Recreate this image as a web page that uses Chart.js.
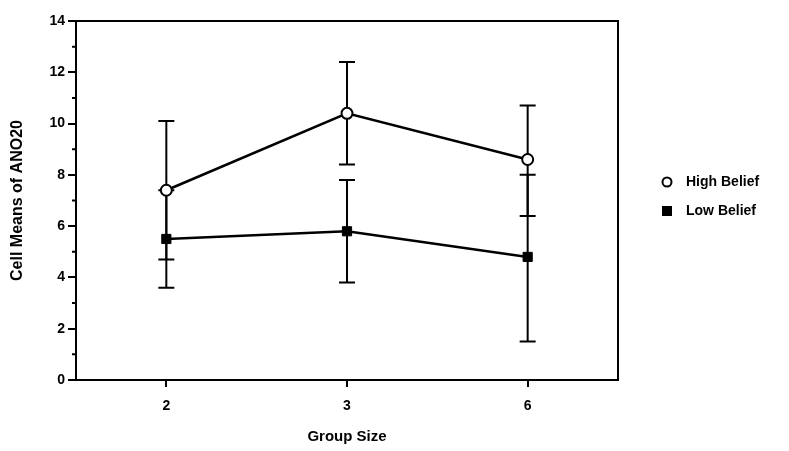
<!DOCTYPE html>
<html>
<head>
<meta charset="utf-8">
<title>Cell Means of ANO20</title>
<script src="https://cdn.jsdelivr.net/npm/chart.js@4"></script>
<style>
  body { margin: 0; background: #ffffff; }
</style>
</head>
<body>
<canvas id="meansChart" width="789" height="451"></canvas>
<script>
// values
const groupSizes = ["2", "3", "6"];
const highBelief = [7.4, 10.4, 8.6];
const highUpper = [10.1, 12.4, 10.7];
const highLower = [4.7, 8.4, 6.4];
const lowBelief = [5.5, 5.8, 4.8];
const lowUpper = [7.4, 7.8, 8.0];
const lowLower = [3.6, 3.8, 1.5];
const yTicks = [0, 2, 4, 6, 8, 10, 12, 14];

const FONT = "'Liberation Sans', Arial, sans-serif";
const meansChart = document.getElementById("meansChart");

// box round the plot + small ticks at odd values
const framePlugin = {
  id: "frame",
  beforeDatasetsDraw(chart) {
    const { ctx, chartArea, scales } = chart;
    ctx.save();
    ctx.strokeStyle = "#000";
    ctx.lineWidth = 2;
    ctx.strokeRect(chartArea.left, chartArea.top, chartArea.right - chartArea.left, chartArea.bottom - chartArea.top);
    ctx.beginPath();
    for (let v = 1; v < 14; v += 2) {
      const y = scales.y.getPixelForValue(v);
      ctx.moveTo(chartArea.left - 4, y);
      ctx.lineTo(chartArea.left, y);
    }
    ctx.stroke();
    ctx.restore();
  },
};

// vertical error bars with caps
const errorBarPlugin = {
  id: "errorBars",
  beforeDatasetsDraw(chart) {
    const { ctx, scales } = chart;
    ctx.save();
    ctx.strokeStyle = "#000";
    ctx.lineWidth = 2;
    chart.data.datasets.forEach((ds, di) => {
      const meta = chart.getDatasetMeta(di);
      meta.data.forEach((pt, i) => {
        const yTop = scales.y.getPixelForValue(ds.upper[i]);
        const yBot = scales.y.getPixelForValue(ds.lower[i]);
        ctx.beginPath();
        ctx.moveTo(pt.x, yTop);
        ctx.lineTo(pt.x, yBot);
        ctx.moveTo(pt.x - 8, yTop);
        ctx.lineTo(pt.x + 8, yTop);
        ctx.moveTo(pt.x - 8, yBot);
        ctx.lineTo(pt.x + 8, yBot);
        ctx.stroke();
      });
    });
    ctx.restore();
  },
};

// legend to the right of the box
const sideLegend = {
  id: "sideLegend",
  afterDraw(chart) {
    const { ctx, chartArea } = chart;
    const mx = chartArea.right + 49;
    const tx = chartArea.right + 68;
    ctx.save();
    ctx.font = "bold 14px " + FONT;
    ctx.fillStyle = "#000";
    ctx.textBaseline = "middle";
    ctx.strokeStyle = "#000";
    ctx.lineWidth = 2;
    ctx.beginPath();
    ctx.arc(mx, 182, 4.5, 0, Math.PI * 2);
    ctx.stroke();
    ctx.fillText(chart.data.datasets[0].label, tx, 182);
    ctx.fillRect(mx - 5, 206, 10, 10);
    ctx.fillText(chart.data.datasets[1].label, tx, 211);
    ctx.restore();
  },
};

new Chart(meansChart, {
  type: "line",
  data: {
    labels: groupSizes,
    datasets: [
      {
        label: "High Belief",
        data: highBelief,
        upper: highUpper,
        lower: highLower,
        borderColor: "#000",
        borderWidth: 2.5,
        pointStyle: "circle",
        pointRadius: 5.5,
        pointBackgroundColor: "#fff",
        pointBorderColor: "#000",
        pointBorderWidth: 2,
        tension: 0,
      },
      {
        label: "Low Belief",
        data: lowBelief,
        upper: lowUpper,
        lower: lowLower,
        borderColor: "#000",
        borderWidth: 2.5,
        pointStyle: "rect",
        pointRadius: 6.5,
        pointBackgroundColor: "#000",
        pointBorderColor: "#000",
        pointBorderWidth: 1,
        tension: 0,
      },
    ],
  },
  options: {
    responsive: false,
    animation: false,
    layout: { padding: { left: 0, top: 21, right: 171, bottom: 0 } },
    plugins: {
      legend: { display: false },
      tooltip: { enabled: false },
    },
    scales: {
      x: {
        offset: true,
        afterFit: (scale) => { scale.height = 71; },
        grid: { offset: false, drawOnChartArea: false, color: "#000", tickLength: 7, lineWidth: 2 },
        border: { color: "#000", width: 2 },
        ticks: { color: "#000", padding: 11, font: { family: FONT, size: 14, weight: "bold" } },
        title: {
          display: true,
          text: "Group Size",
          color: "#000",
          padding: { top: 0, bottom: 5 },
          font: { family: FONT, size: 15, weight: "bold" },
        },
      },
      y: {
        min: 0,
        max: 14,
        afterFit: (scale) => { scale.width = 76; },
        afterBuildTicks: (scale) => { scale.ticks = yTicks.map((v) => ({ value: v })); },
        grid: { drawOnChartArea: false, color: "#000", tickLength: 8, lineWidth: 2 },
        border: { color: "#000", width: 2 },
        ticks: { color: "#000", padding: 3, font: { family: FONT, size: 14, weight: "bold" } },
        title: {
          display: true,
          text: "Cell Means of ANO20",
          color: "#000",
          padding: { top: 8, bottom: 0 },
          font: { family: FONT, size: 16, weight: "bold" },
        },
      },
    },
  },
  plugins: [framePlugin, errorBarPlugin, sideLegend],
});
</script>
</body>
</html>
